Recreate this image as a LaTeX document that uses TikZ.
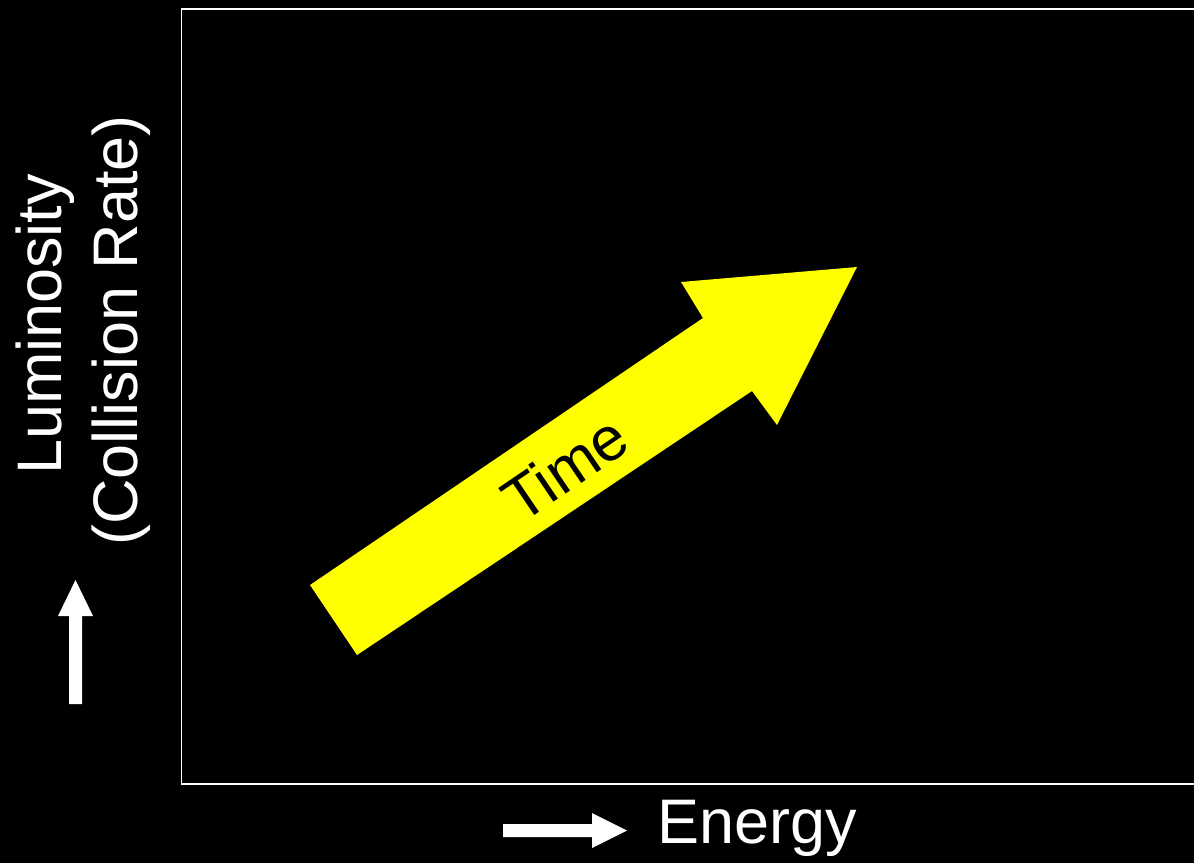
\documentclass[tikz,border=0pt]{standalone}
\usepackage{fontspec}
\setmainfont{Liberation Sans}
\definecolor{yel}{RGB}{255,255,0}
\begin{document}
\begin{tikzpicture}[x=0.01cm,y=-0.01cm,
  lbl/.style={text=white,inner sep=0pt,font=\fontsize{17.9pt}{21pt}\selectfont},
  whitearrow/.style={fill=white,draw=none}]
\fill[black] (0,0) rectangle (1194,863);
\useasboundingbox (0,0) rectangle (1194,863);
% frame
\draw[white,line width=0.45pt] (1200,9) -- (181.5,9) -- (181.5,784) -- (1200,784);
% yellow arrow
\fill[yel] (310,585) -- (703,318) -- (681,282) -- (857,267) -- (777,425) -- (752,391) -- (357,655) -- cycle;
\node[inner sep=0pt,rotate=34.2,font=\fontsize{17.6pt}{20pt}\selectfont] (time) at (565,468) {Time};
% axis labels
\node[lbl,rotate=90,anchor=base] (lum) at (61,324.5) {Luminosity};
\node[lbl,rotate=90,anchor=base] (rate) at (137,330.5) {(Collision Rate)};
\node[lbl,anchor=base west] (energy) at (657,843) {Energy};
% white arrows
\fill[whitearrow] (69,704) -- (69,616) -- (58,616) -- (75.5,580) -- (93,616) -- (82,616) -- (82,704) -- cycle;
\fill[whitearrow] (503,824) -- (592,824) -- (592,813) -- (627,830.5) -- (592,848) -- (592,837) -- (503,837) -- cycle;
\end{tikzpicture}
\end{document}
